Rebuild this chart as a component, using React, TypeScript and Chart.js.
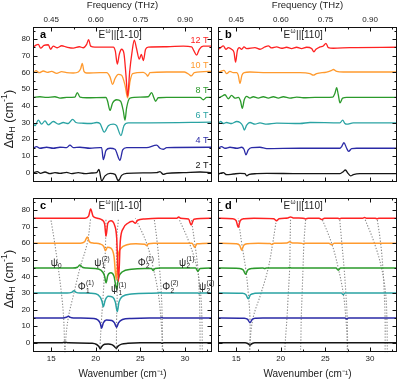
import React, { useEffect, useRef } from 'react';
import { Chart, registerables } from 'chart.js';
Chart.register(...registerables);

type P = [number, number];
const FONT = "'Liberation Sans', Arial, Helvetica, sans-serif";
const TEXT = '#222222';

const fieldLabels = ['2 T', '4 T', '6 T', '8 T', '10 T', '12 T'];
const fieldOffsets = [0, 15, 30, 45, 60, 75];
const fieldColors = ['#151515', '#2a2aa6', '#2aa3a3', '#2b9a2b', '#ff9a2e', '#ff2222'];

const xMajor = [15, 20, 25, 30];
const xMinor = [17.5, 22.5, 27.5, 32.5];
const yMajor = [0, 10, 20, 30, 40, 50, 60, 70, 80];
const yMinor = [5, 15, 25, 35, 45, 55, 65, 75, 85];
const thzMajor = [0.45, 0.6, 0.75, 0.9];
const thzMinor = [0.525, 0.675, 0.825, 0.975];
const CM_PER_THZ = 33.356;
const X_MIN = 13, X_MAX = 33, Y_MIN = -5.7, Y_MAX = 87.3;

// ---- panel a : measured, E || [1-10] (x: cm^-1, y: offset-free value)
const a2T: P[] = [[13,0],[13.45,0.6],[13.82,-0.4],[14.31,0.4],[14.87,-0.6],[15.43,0],[15.99,-0.4],[16.74,0.2],[17.3,-0.6],[18.04,0],[18.79,-0.6],[19.54,-0.2],[20.1,0],[20.36,1.9],[20.66,-4.9],[21.04,-1.9],[21.6,-0.4],[22.16,-1.0],[22.53,-4.9],[22.9,-1.6],[23.46,-0.4],[26.83,0],[27.2,0.6],[27.57,-1.0],[27.95,-0.4],[29.82,0],[31.69,0.4],[33,0]];
const a4T: P[] = [[13,-0.4],[13.37,0.6],[13.75,-0.4],[14.49,0.2],[15.24,-0.4],[15.99,0.2],[16.74,0],[17.11,1.5],[17.48,0],[18.23,0.2],[19.35,-0.4],[20.47,0],[20.66,0],[20.85,-7.2],[21.15,-1.7],[21.6,-0.4],[22.16,-1.0],[22.72,-7.6],[23.02,-1.4],[23.46,0],[25.71,0],[26.83,1.5],[27.2,-0.4],[27.57,-1.0],[27.95,0],[33,0.2]];
const a6T: P[] = [[13,-0.6],[13.19,-1.9],[13.56,1.4],[13.93,-1.0],[14.31,1.0],[14.68,-1.4],[15.24,0.6],[15.8,-1.0],[16.36,0],[16.92,-0.6],[17.41,1.9],[17.78,0],[18.42,-0.4],[19.35,-0.6],[20.1,0],[20.47,-0.6],[20.96,-5.8],[21.41,-1.9],[21.97,-1.0],[22.34,-1.9],[22.83,-7.8],[23.16,-1.9],[23.65,-0.2],[26.08,-0.2],[33,0.2]];
const a8T: P[] = [[13,0],[13.75,0.4],[14.49,0],[15.43,0.4],[15.99,-0.4],[16.74,0],[17.67,0.2],[17.93,2.9],[18.23,0.2],[18.98,-0.2],[21.15,0],[21.33,-2.3],[21.6,-7.8],[21.89,-3.3],[22.34,-1.4],[22.79,-2.3],[23.09,-8.1],[23.28,-13.6],[23.46,-6.2],[23.84,-0.4],[24.96,0.2],[25.89,0.4],[26.27,2.9],[26.53,-0.4],[26.71,-2.3],[27.01,-0.2],[27.95,0],[31.69,0],[32.06,-1.4],[32.43,0],[33,0]];
const a10T: P[] = [[13,-0.4],[13.3,1.0],[13.67,-0.2],[14.12,0.8],[14.57,0],[15.06,0.6],[15.62,-0.6],[16.18,0.4],[16.74,-0.2],[17.48,-0.4],[18.04,0.2],[18.31,2.1],[18.49,5.4],[18.68,0.6],[18.98,-0.4],[20.47,-0.2],[21.22,-0.2],[21.6,-2.7],[21.89,-7.2],[22.16,-3.7],[22.53,-1.2],[22.9,-1.7],[23.28,-7.6],[23.58,-15.3],[23.84,-5.6],[24.14,-0.8],[25.33,0],[25.71,-1.4],[25.82,-2.3],[26.08,-0.2],[27.95,0.2],[29.94,0.2],[30.5,-1.4],[30.69,-2.1],[31.06,-0.2],[33,0.6]];
const a12T: P[] = [[13,0.1],[13.3,1.3],[13.56,1.7],[13.82,-0.5],[14.2,1.1],[14.68,1.5],[14.94,-1.2],[15.24,0.7],[15.69,-0.3],[16.18,0.9],[16.74,0.1],[17.48,-0.5],[18.16,0.3],[18.61,-0.3],[18.98,1.7],[19.2,4.6],[19.43,0.7],[19.91,0.1],[21.97,0.1],[22.19,-2.2],[22.42,-10],[22.64,-4.2],[22.9,-1.2],[23.16,-3.6],[23.39,-16.8],[23.58,-29.4],[23.8,-14.8],[24.06,-3.2],[24.32,4.2],[24.58,-0.9],[24.88,-7.1],[25.11,-4.2],[25.33,-8],[25.59,-1.2],[25.89,0.1],[27.95,0.3],[29.82,0.7],[30.75,0.3],[31.01,-2.2],[31.31,-4.7],[31.61,-1.2],[32.06,0.7],[33,0.7]];

// ---- panel b : measured, E || [110]
const b2T: P[] = [[13,-1.0],[13.19,-0.4],[13.56,0],[13.93,-1.2],[14.68,-0.8],[15.43,-0.4],[15.99,-0.6],[16.18,-1.9],[16.48,-1.0],[17.3,-0.6],[18.42,-0.4],[22.16,-0.6],[26.64,-0.6],[27.01,0.6],[27.24,1.6],[27.57,-0.6],[27.84,-1.9],[28.13,-1.2],[28.88,-0.6],[33,-0.6]];
const b4T: P[] = [[13,-0.4],[13.37,0.6],[13.75,-0.4],[14.31,0.2],[15.06,-0.4],[15.62,0.2],[15.88,-1.0],[16.1,-4.3],[16.36,-1.4],[16.74,0],[17.67,0.2],[18.42,-0.6],[22.16,-0.4],[26.64,-0.4],[26.83,0.6],[27.09,2.9],[27.39,-0.4],[27.61,-2.3],[27.95,-0.6],[28.51,-0.4],[33,-0.4]];
const b6T: P[] = [[13,-1.0],[13.26,0.6],[13.56,-0.6],[13.93,0],[14.49,-0.6],[15.06,0.6],[15.43,0],[15.73,-1.9],[15.91,-4.5],[16.18,-1.6],[16.55,0],[17.11,-1.0],[17.67,-0.2],[18.42,-1.0],[19.54,-0.4],[22.16,-0.6],[23.28,0],[26.64,-0.2],[26.94,1.4],[27.2,-0.6],[27.39,-1.0],[28.13,-0.2],[33,-0.2]];
const b8T: P[] = [[13,-0.4],[13.37,0.6],[13.75,1.6],[14.12,-0.8],[14.49,1.2],[14.87,-0.4],[15.24,0],[15.5,-2.3],[15.69,-6.6],[15.91,-1.4],[16.18,0.6],[16.55,-0.4],[16.92,0.4],[17.48,-0.4],[18.04,0.4],[18.61,-0.4],[19.17,0.4],[19.73,-0.4],[20.29,0.4],[21.03,-0.4],[21.78,0.2],[22.53,-0.2],[23.84,0],[25.82,0.2],[26.08,2.5],[26.27,5.8],[26.45,1.6],[26.64,-3.3],[26.94,-0.4],[27.39,0],[33,0]];
const b10T: P[] = [[13,-0.2],[13.26,0.6],[13.64,1.2],[13.93,-0.8],[14.31,0.6],[14.68,-0.2],[15.06,-0.2],[15.24,-1.7],[15.43,-6.6],[15.65,-1.7],[15.91,-0.2],[16.55,0.2],[18.42,-0.2],[22.16,-0.2],[23.28,-0.8],[23.65,-1.7],[24.02,-0.8],[25.15,0.2],[25.71,1.2],[25.89,1.7],[26.27,0.6],[27.01,0.2],[33,0.2]];
const b12T: P[] = [[13,-1.2],[13.26,-0.2],[13.56,0.8],[13.86,-1.2],[14.12,-0.2],[14.49,-1.2],[14.76,-3.1],[14.94,-8.9],[15.13,-2.1],[15.35,-0.2],[15.62,-1.2],[15.88,0.2],[16.18,-0.8],[17.11,-0.2],[17.67,-1.2],[18.23,0.2],[18.61,0.8],[18.98,-0.4],[19.54,0.2],[20.1,-0.6],[20.66,0],[21.22,-0.8],[21.78,0],[22.34,-0.8],[22.9,0],[23.46,-0.8],[23.72,-2.7],[23.95,-1.2],[24.4,0.2],[24.77,0.8],[25.07,2.3],[25.33,-0.2],[25.89,-0.6],[27.76,-0.2],[33,0]];

// ---- panel c : model, E || [1-10]
const c2T: P[] = [[13,0],[16.2,0],[16.55,0.3],[16.9,0],[19.6,-0.3],[20.1,-1.0],[20.35,-2.2],[20.5,-3.5],[20.7,-2.0],[21.0,-0.9],[21.4,-0.7],[21.8,-1.1],[22.05,-2.0],[22.3,-3.3],[22.5,-2.0],[22.9,-0.8],[23.6,-0.3],[25,0],[27.3,0],[27.45,-0.3],[27.6,0],[33,0]];
const c4T: P[] = [[13,0],[16.3,0],[16.7,0.4],[16.92,1.0],[17.15,0.3],[17.5,0],[19.8,-0.3],[20.25,-1.3],[20.5,-3.2],[20.66,-6.2],[20.85,-3.0],[21.2,-1.2],[21.8,-1.6],[22.1,-3.0],[22.34,-5.8],[22.55,-3.0],[23.0,-1.0],[24,-0.3],[26,0],[27.25,0],[27.4,0.3],[27.55,0],[33,0]];
const c6T: P[] = [[13,0],[16.8,0],[17.3,0.4],[17.56,1.3],[17.8,0.4],[18.3,0],[20.0,-0.5],[20.5,-2.5],[20.7,-5],[20.85,-8.3],[21.05,-4.5],[21.4,-2],[21.9,-2.5],[22.2,-5.5],[22.42,-11.2],[22.6,-5.5],[23.0,-2],[24,-0.6],[26,-0.1],[27.05,0],[27.2,0.3],[27.35,0],[31.45,0],[31.6,-0.4],[31.75,0],[33,0]];
const c8T: P[] = [[13,0],[17.4,0],[17.95,0.5],[18.23,1.9],[18.5,0.5],[19,0],[20.3,-0.6],[20.8,-2.5],[21.0,-5],[21.15,-8.9],[21.35,-4.5],[21.7,-2.8],[22.05,-5],[22.34,-12.7],[22.55,-6],[23.0,-2.2],[24,-0.7],[25.5,-0.2],[26.25,-0.3],[26.45,-1.5],[26.65,-0.2],[27.2,0],[31.2,0],[31.45,-1.9],[31.7,-0.3],[33,0]];
const c10T: P[] = [[13,0],[18.3,0],[18.75,0.8],[19.05,3.7],[19.3,0.8],[19.8,0],[20.5,-0.5],[20.9,-2],[21.1,-4.5],[21.3,-2.5],[21.7,-3],[22.05,-8],[22.3,-22],[22.5,-8],[22.85,-3],[23.5,-1],[24.5,-0.4],[25.5,-0.6],[25.7,-1.5],[25.9,-0.4],[26.5,0],[30.8,0],[31.1,-2.5],[31.35,-0.4],[33,0]];
const c12T: P[] = [[13,0],[18.8,0],[19.2,1.2],[19.43,5.6],[19.7,1.2],[20.2,0],[20.7,-1],[21.0,-3.5],[21.15,-10.8],[21.35,-3],[21.7,-1.5],[22.1,-4],[22.35,-12],[22.55,-38],[22.75,-14],[23.1,-6],[23.6,-3],[24.1,-1.8],[24.45,-3],[24.7,-1.2],[25.5,-0.4],[27,0],[29.1,0],[29.3,0.8],[29.5,0],[30.4,-0.5],[30.7,-4],[31.0,-0.6],[33,0]];

// ---- panel d : model, E || [110]
const d2T: P[] = [[13,0],[16.0,0],[16.3,-0.4],[16.55,-1.4],[16.8,-0.4],[17.1,0],[33,0]];
const d4T: P[] = [[13,0],[15.9,-0.2],[16.3,-0.9],[16.55,-2.9],[16.8,-0.9],[17.2,-0.2],[18,0],[27.2,0],[27.4,-0.6],[27.6,0],[33,0]];
const d6T: P[] = [[13,0],[15.7,-0.2],[16.1,-1.1],[16.36,-3.5],[16.6,-1.1],[17.1,-0.2],[18,0],[26.8,0],[27.0,-1.0],[27.2,0],[33,0]];
const d8T: P[] = [[13,0],[15.4,-0.2],[15.8,-1.2],[16.06,-3.7],[16.3,-1.2],[16.8,-0.2],[18,0],[18.2,-0.2],[18.4,0],[20.8,0],[21.0,0.4],[21.2,0],[26.2,0],[26.45,-1.3],[26.7,0],[33,0]];
const d10T: P[] = [[13,0],[15.0,-0.3],[15.4,-1.3],[15.62,-4.2],[15.85,-1.3],[16.3,-0.3],[17.5,0],[18.8,-0.2],[19.0,-0.8],[19.25,-0.1],[20.7,0.1],[21.0,0.8],[21.3,0.1],[22.3,0],[22.5,-0.3],[22.7,0],[25.4,0],[25.7,-1.0],[26.0,0],[33,0]];
const d12T: P[] = [[13,0],[14.6,-0.3],[15.0,-1.5],[15.24,-5.4],[15.45,-1.5],[15.9,-0.3],[17,0],[19.2,-0.3],[19.54,-1.5],[19.8,-0.3],[20.8,0.2],[21.1,0.8],[21.4,0.2],[22.5,0],[22.8,-0.4],[23.1,0],[24.3,0],[24.6,-0.8],[24.9,0],[26.4,0],[26.6,-0.3],[26.8,0],[29.2,0],[29.4,0.4],[29.6,0],[30.6,0],[30.8,-0.3],[31,0],[33,0]];

// ---- dispersion guides (x: cm^-1, y: field offset)
const cGuides: P[][] = [
  [[16.55,-6],[16.5,0],[16.4,15],[16.15,30],[15.8,45],[15.4,60],[14.95,75]],
  [[16.55,-6],[16.6,0],[16.92,15],[17.56,30],[18.23,45],[19.05,60],[19.43,75]],
  [[20.45,-6],[20.5,0],[20.66,15],[20.85,30],[21.0,45],[21.1,60],[21.15,75]],
  [[22.3,-6],[22.32,0],[22.34,15],[22.4,30],[22.36,45],[22.32,60],[22.55,75]],
  [[27.45,-6],[27.45,0],[27.3,15],[27.0,30],[26.45,45],[25.7,60],[24.45,75]],
  [[27.5,-6],[27.45,15],[27.35,30],[27.15,45],[26.9,60],[26.55,75]],
  [[31.7,-6],[31.68,15],[31.6,30],[31.45,45],[31.1,60],[30.7,75]],
  [[31.95,-6],[31.9,15],[31.75,30],[31.35,45],[30.5,60],[29.3,75]],
];
const dGuides: P[][] = [
  [[16.5,-6],[16.55,0],[16.55,15],[16.36,30],[16.06,45],[15.62,60],[15.24,75]],
  [[16.5,-6],[16.55,0],[16.9,15],[17.8,30],[18.6,45],[19.1,60],[19.54,75]],
  [[20.45,-6],[20.5,0],[20.7,15],[20.85,30],[21.0,45],[21.05,60],[21.1,75]],
  [[22.2,-6],[22.25,0],[22.3,15],[22.4,30],[22.5,45],[22.6,60],[22.8,75]],
  [[27.45,-6],[27.45,0],[27.3,15],[27.0,30],[26.45,45],[25.7,60],[24.6,75]],
  [[27.5,-6],[27.45,15],[27.3,30],[27.1,45],[26.85,60],[26.6,75]],
  [[31.7,-6],[31.7,15],[31.6,30],[31.45,45],[31.2,60],[30.8,75]],
  [[31.95,-6],[31.9,15],[31.75,30],[31.3,45],[30.5,60],[29.4,75]],
];

// mode labels in panel c: [x (left edge, cm^-1), y, main, sub, sup]
const cModeLabels: [number, number, string, string, string][] = [
  [14.95, 48, 'ψ', '0', ''],
  [19.84, 48, 'ψ', '1', '(2)'],
  [24.7, 48, 'Φ', '2', '(1)'],
  [29.33, 48, 'ψ', '2', '(1)'],
  [17.97, 33.4, 'Φ', '1', '(1)'],
  [21.71, 32.1, 'ψ', '1', '(1)'],
  [27.46, 33.4, 'Φ', '2', '(2)'],
  [31.58, 33.4, 'ψ', '2', '(2)'],
];

interface PanelCfg {
  letter: string;
  eTail: string;
  spectra: P[][];
  guides: P[][];
  lw: number;
  left: boolean;
  top: boolean;
  bottom: boolean;
  padding: { left: number; right: number; top: number; bottom: number };
  fieldText: boolean;
  modes: boolean;
  yTitleY?: number;
}

function drawYTitle(ctx: CanvasRenderingContext2D, x: number, y: number) {
  const parts: [string, number, number][] = [
    ['Δα', 12.5, 0], ['H', 9, 3], [' (cm', 12.5, 0], ['-1', 9, -4.5], [')', 12.5, 0],
  ];
  ctx.save();
  ctx.translate(x, y);
  ctx.rotate(-Math.PI / 2);
  ctx.textBaseline = 'middle';
  ctx.textAlign = 'left';
  let total = 0;
  const ws = parts.map(([t, s]) => { ctx.font = `${s}px ${FONT}`; const w = ctx.measureText(t).width; total += w; return w; });
  let cx = -total / 2;
  ctx.fillStyle = TEXT;
  parts.forEach(([t, s, dy], i) => { ctx.font = `${s}px ${FONT}`; ctx.fillText(t, cx, dy); cx += ws[i]; });
  ctx.restore();
}

function overlay(cfg: PanelCfg) {
  return {
    id: 'overlay_' + cfg.letter,
    afterDatasetsDraw(chart: any) {
      const { ctx, chartArea: ca, scales } = chart;
      const xs = scales.x, ys = scales.y;
      const topS = scales.xt || xs;
      const topMaj = scales.xt ? thzMajor : xMajor;
      const topMin = scales.xt ? thzMinor : xMinor;
      ctx.save();
      const L = Math.round(ca.left) + 0.5, R = Math.round(ca.right) - 0.5;
      const T = Math.round(ca.top) + 0.5, B = Math.round(ca.bottom) - 0.5;
      ctx.strokeStyle = '#111';
      ctx.lineWidth = 1;
      ctx.strokeRect(L, T, R - L, B - T);
      ctx.beginPath();
      const vt = (scale: any, vals: number[], len: number, edge: number, dir: number) => {
        vals.forEach(v => {
          const p = Math.round(scale.getPixelForValue(v)) + 0.5;
          if (p < L || p > R) return;
          ctx.moveTo(p, edge); ctx.lineTo(p, edge + dir * len);
        });
      };
      const ht = (vals: number[], len: number, edge: number, dir: number) => {
        vals.forEach(v => {
          const p = Math.round(ys.getPixelForValue(v)) + 0.5;
          if (p < T || p > B) return;
          ctx.moveTo(edge, p); ctx.lineTo(edge + dir * len, p);
        });
      };
      vt(xs, xMajor, 4, B, -1); vt(xs, xMinor, 2, B, -1);
      vt(topS, topMaj, 4, T, 1); vt(topS, topMin, 2, T, 1);
      ht(yMajor, 4, L, 1); ht(yMinor, 2, L, 1);
      ht(yMajor, 4, R, -1); ht(yMinor, 2, R, -1);
      ctx.stroke();

      const px = (v: number) => xs.getPixelForValue(v);
      const py = (v: number) => ys.getPixelForValue(v);
      ctx.textBaseline = 'middle';
      ctx.textAlign = 'left';
      ctx.fillStyle = '#000';
      ctx.font = `bold 11px ${FONT}`;
      ctx.fillText(cfg.letter, px(13.75), py(82.4));

      // E^ω || [..]
      let ex = px(20.3);
      const ey = py(82.4);
      ctx.fillStyle = TEXT;
      ctx.font = `10px ${FONT}`;
      ctx.fillText('E', ex, ey); ex += ctx.measureText('E').width + 0.3;
      ctx.font = `6.5px ${FONT}`;
      ctx.fillText('ω', ex, ey - 4); ex += ctx.measureText('ω').width + 0.6;
      ctx.font = `10px ${FONT}`;
      ctx.fillText(cfg.eTail, ex, ey);

      if (cfg.fieldText) {
        ctx.textAlign = 'right';
        ctx.font = `9px ${FONT}`;
        fieldLabels.forEach((t, i) => {
          ctx.fillStyle = fieldColors[i];
          ctx.fillText(t, px(32.65), py(fieldOffsets[i] + 4.2));
        });
      }
      if (cfg.modes) {
        ctx.textAlign = 'left';
        ctx.fillStyle = TEXT;
        cModeLabels.forEach(([x, y, m, sub, sup]) => {
          const X = px(x), Y = py(y);
          ctx.font = `10px ${FONT}`;
          ctx.fillText(m, X, Y);
          const w = ctx.measureText(m).width + 0.3;
          ctx.font = `6.5px ${FONT}`;
          if (sub) ctx.fillText(sub, X + w, Y + 3.5);
          if (sup) ctx.fillText(sup, X + w, Y - 4);
        });
      }
      if (cfg.yTitleY !== undefined) drawYTitle(ctx, 9.5, cfg.yTitleY);
      ctx.restore();
    },
  };
}

function build(canvas: HTMLCanvasElement, cfg: PanelCfg) {
  const spectraSets = cfg.spectra.map((s, i) => ({
    data: s.map(([x, d]) => ({ x, y: d + fieldOffsets[i] })),
    borderColor: fieldColors[i],
    borderWidth: cfg.lw,
    pointRadius: 0,
    fill: false,
    cubicInterpolationMode: 'monotone',
  })).reverse();
  const guideSets = cfg.guides.map(g => ({
    data: g.map(([x, y]) => ({ x, y })),
    borderColor: '#8a8a8a',
    borderWidth: 1.1,
    borderDash: [1.3, 1.7],
    pointRadius: 0,
    fill: false,
    tension: 0.4,
  }));
  const tickFont = { family: FONT, size: 8 };
  const scales: any = {
    x: {
      type: 'linear', min: X_MIN, max: X_MAX, position: 'bottom', display: true,
      grid: { display: false, drawTicks: false, tickLength: 0 }, border: { display: false },
      afterBuildTicks: (s: any) => { s.ticks = xMajor.map(v => ({ value: v })); },
      ticks: { display: cfg.bottom, font: tickFont, color: TEXT, padding: 2, maxRotation: 0, autoSkip: false },
      title: { display: cfg.bottom, text: 'Wavenumber (cm⁻¹)', color: TEXT, font: { family: FONT, size: 10, lineHeight: 1.2 }, padding: { top: 0, bottom: 0 } },
      afterFit: (s: any) => { s.height = cfg.bottom ? 27.7 : 3.3; },
    },
    y: {
      type: 'linear', min: Y_MIN, max: Y_MAX, position: 'left', display: true,
      grid: { display: false, drawTicks: false, tickLength: 0 }, border: { display: false },
      afterBuildTicks: (s: any) => { s.ticks = yMajor.map(v => ({ value: v })); },
      ticks: { display: true, font: tickFont, color: cfg.left ? TEXT : 'rgba(0,0,0,0)', padding: 3 },
      afterFit: (s: any) => { s.width = 33.3; },
    },
  };
  scales.xt = {
    type: 'linear', min: X_MIN / CM_PER_THZ, max: X_MAX / CM_PER_THZ, position: 'top', display: true,
    grid: { display: false, drawTicks: false, tickLength: 0 }, border: { display: false },
    afterBuildTicks: (s: any) => { s.ticks = thzMajor.map(v => ({ value: v })); },
    ticks: { display: cfg.top, font: tickFont, color: TEXT, padding: 2, maxRotation: 0, autoSkip: false, callback: (v: any) => Number(v).toFixed(2) },
    title: { display: cfg.top, text: 'Frequency (THz)', color: TEXT, font: { family: FONT, size: 9.5, lineHeight: 1.2 }, padding: { top: 0, bottom: 0 } },
    afterFit: (s: any) => { s.height = cfg.top ? 26.7 : 2.3; },
  };
  return new Chart(canvas, {
    type: 'line',
    data: { datasets: [...spectraSets, ...guideSets] as any },
    options: {
      animation: false,
      responsive: false,
      devicePixelRatio: 1,
      events: [],
      layout: { padding: cfg.padding },
      plugins: { legend: { display: false }, tooltip: { enabled: false } },
      scales,
    } as any,
    plugins: [overlay(cfg)],
  });
}

const panels: PanelCfg[] = [
  { letter: 'a', eTail: '||[1-10]', spectra: [a2T, a4T, a6T, a8T, a10T, a12T], guides: [], lw: 1.3,
    left: true, top: true, bottom: false, padding: { left: 0, right: 3.3, top: 0, bottom: 0 }, fieldText: true, modes: false, yTitleY: 119 },
  { letter: 'b', eTail: '||[110]', spectra: [b2T, b4T, b6T, b8T, b10T, b12T], guides: [], lw: 1.3,
    left: false, top: true, bottom: false, padding: { left: 0, right: 2.3, top: 0, bottom: 0 }, fieldText: false, modes: false },
  { letter: 'c', eTail: '||[1-10]', spectra: [c2T, c4T, c6T, c8T, c10T, c12T], guides: cGuides, lw: 1.5,
    left: true, top: false, bottom: true, padding: { left: 0, right: 3.3, top: 0, bottom: 0 }, fieldText: false, modes: true, yTitleY: 89 },
  { letter: 'd', eTail: '||[110]', spectra: [d2T, d4T, d6T, d8T, d10T, d12T], guides: dGuides, lw: 1.5,
    left: false, top: false, bottom: true, padding: { left: 0, right: 2.3, top: 0, bottom: 0 }, fieldText: false, modes: false },
];

// canvases: each chart area = canvas minus (33.3 left axis, top/bottom axes, right padding)
const boxes = [
  { left: 0, top: 0, width: 215, height: 190 },
  { left: 185, top: 0, width: 214, height: 190 },
  { left: 0, top: 190, width: 215, height: 190 },
  { left: 185, top: 190, width: 214, height: 190 },
];

export default function App() {
  const refs = [useRef<HTMLCanvasElement>(null), useRef<HTMLCanvasElement>(null), useRef<HTMLCanvasElement>(null), useRef<HTMLCanvasElement>(null)];
  useEffect(() => {
    const charts = panels.map((p, i) => build(refs[i].current as HTMLCanvasElement, p));
    return () => charts.forEach(c => c.destroy());
  }, []);
  return (
    <div style={{ position: 'fixed', left: 0, top: 0, width: 399, height: 380, background: '#fff', overflow: 'hidden' }}>
      {boxes.map((b, i) => (
        <canvas key={i} ref={refs[i]} width={b.width} height={b.height}
          style={{ position: 'absolute', left: b.left, top: b.top, width: b.width, height: b.height }} />
      ))}
    </div>
  );
}
